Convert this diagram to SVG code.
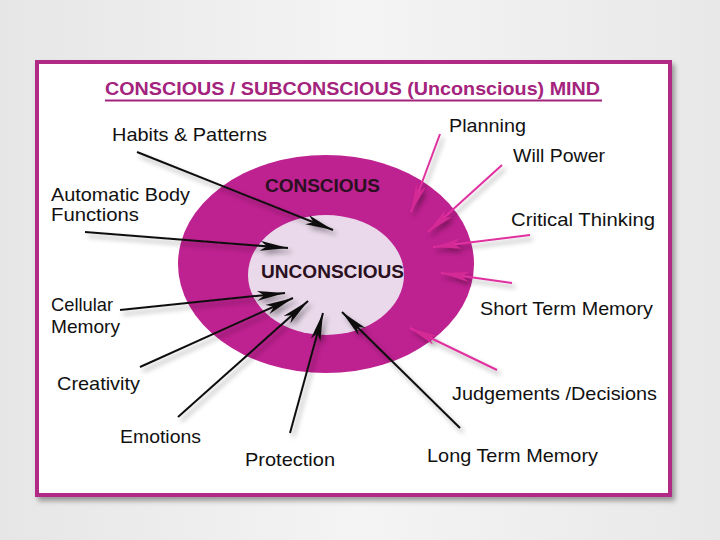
<svg xmlns="http://www.w3.org/2000/svg" width="720" height="540" viewBox="0 0 720 540">
<style>
.lbl{font-family:"Liberation Sans",Arial,sans-serif;font-size:19px;fill:#111}
.core{font-family:"Liberation Sans",Arial,sans-serif;font-size:19px;font-weight:bold;fill:#2a1020}
.title{font-family:"Liberation Sans",Arial,sans-serif;font-size:18px;font-weight:bold;fill:#a3237d}
.blk{stroke:#111;stroke-width:2;fill:none;marker-end:url(#hb)}
.mag{stroke:#e0309f;stroke-width:2;fill:none;marker-end:url(#hm)}
</style>
<defs>
<marker id="hb" markerUnits="userSpaceOnUse" markerWidth="30" markerHeight="12" refX="28" refY="5" orient="auto">
<path d="M0,0 L28,5 L0,10 L7,5 z" fill="#111"/>
</marker>
<marker id="hm" markerUnits="userSpaceOnUse" markerWidth="30" markerHeight="12" refX="28" refY="5" orient="auto">
<path d="M0,0 L28,5 L0,10 L7,5 z" fill="#d42a95"/>
</marker>
<filter id="sh" x="-20%" y="-20%" width="140%" height="140%">
<feDropShadow dx="3" dy="4" stdDeviation="2.5" flood-color="#000" flood-opacity="0.35"/>
</filter>
<linearGradient id="bg" x1="0" y1="0" x2="1" y2="0">
<stop offset="0" stop-color="#e6e6e6"/>
<stop offset="0.5" stop-color="#f4f4f4"/>
<stop offset="1" stop-color="#e8e8e8"/>
</linearGradient>
</defs>
<rect x="0" y="0" width="720" height="540" fill="url(#bg)"/>
<rect x="37" y="62" width="633" height="433" fill="#ffffff" stroke="#b12a86" stroke-width="4" filter="url(#sh)"/>
<g id="title">
<text class="title" x="105" y="95" textLength="495" lengthAdjust="spacingAndGlyphs">CONSCIOUS / SUBCONSCIOUS (Unconscious) MIND</text>
<line x1="105" y1="100.5" x2="602" y2="100.5" stroke="#a3237d" stroke-width="2"/>
</g>
<g id="mind">
<ellipse cx="326" cy="264" rx="148" ry="109" fill="#be2190"/>
<ellipse cx="326" cy="275" rx="78" ry="60" fill="#e9d9ea"/>
<text class="core" x="265" y="192" textLength="115" lengthAdjust="spacingAndGlyphs">CONSCIOUS</text>
<text class="core" x="261" y="278" textLength="143" lengthAdjust="spacingAndGlyphs">UNCONSCIOUS</text>
</g>
<g id="connectors" filter="url(#sh)">
<line class="blk" x1="137" y1="152" x2="333" y2="230"/>
<line class="blk" x1="85" y1="232" x2="288" y2="248"/>
<line class="blk" x1="120" y1="310" x2="285" y2="293"/>
<line class="blk" x1="140" y1="367" x2="293" y2="298"/>
<line class="blk" x1="178" y1="417" x2="308" y2="301"/>
<line class="blk" x1="290" y1="433" x2="323" y2="313"/>
<line class="blk" x1="460" y1="428" x2="342" y2="312"/>
<line class="mag" x1="440" y1="134" x2="411" y2="212"/>
<line class="mag" x1="502" y1="165" x2="428" y2="232"/>
<line class="mag" x1="530" y1="235" x2="433" y2="247"/>
<line class="mag" x1="512" y1="283" x2="441" y2="273"/>
<line class="mag" x1="497" y1="370" x2="410" y2="328"/>
</g>
<g id="n-habits"><text class="lbl" x="112" y="141" textLength="155" lengthAdjust="spacingAndGlyphs">Habits &amp; Patterns</text></g>
<g id="n-planning"><text class="lbl" x="449" y="132" textLength="77" lengthAdjust="spacingAndGlyphs">Planning</text></g>
<g id="n-willpower"><text class="lbl" x="513" y="162" textLength="92" lengthAdjust="spacingAndGlyphs">Will Power</text></g>
<g id="n-automatic">
<text class="lbl" x="51" y="201" textLength="139" lengthAdjust="spacingAndGlyphs">Automatic Body</text>
<text class="lbl" x="51" y="221" textLength="88" lengthAdjust="spacingAndGlyphs">Functions</text>
</g>
<g id="n-critical"><text class="lbl" x="511" y="226" textLength="144" lengthAdjust="spacingAndGlyphs">Critical Thinking</text></g>
<g id="n-cellular">
<text class="lbl" x="51" y="311" textLength="62" lengthAdjust="spacingAndGlyphs">Cellular</text>
<text class="lbl" x="51" y="333" textLength="69" lengthAdjust="spacingAndGlyphs">Memory</text>
</g>
<g id="n-shortterm"><text class="lbl" x="480" y="315" textLength="173" lengthAdjust="spacingAndGlyphs">Short Term Memory</text></g>
<g id="n-creativity"><text class="lbl" x="57" y="390" textLength="83" lengthAdjust="spacingAndGlyphs">Creativity</text></g>
<g id="n-judgements"><text class="lbl" x="452" y="400" textLength="205" lengthAdjust="spacingAndGlyphs">Judgements /Decisions</text></g>
<g id="n-emotions"><text class="lbl" x="120" y="443" textLength="81" lengthAdjust="spacingAndGlyphs">Emotions</text></g>
<g id="n-longterm"><text class="lbl" x="427" y="462" textLength="171" lengthAdjust="spacingAndGlyphs">Long Term Memory</text></g>
<g id="n-protection"><text class="lbl" x="245" y="466" textLength="90" lengthAdjust="spacingAndGlyphs">Protection</text></g>
</svg>
